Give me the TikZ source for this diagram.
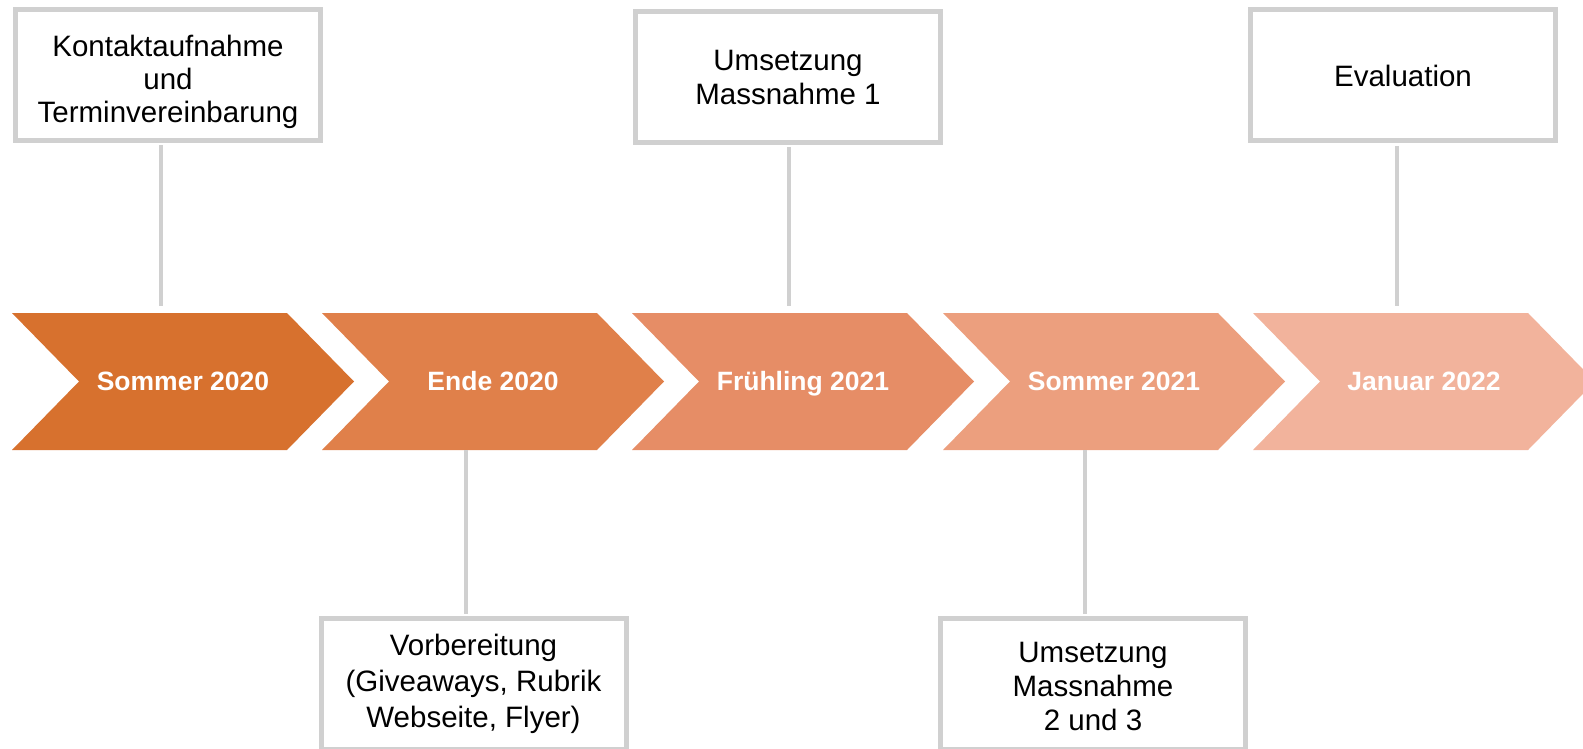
\documentclass[tikz,border=0pt]{standalone}
\usepackage{fontspec}
\setmainfont{Liberation Sans}
\definecolor{chA}{HTML}{D7712E}
\definecolor{chB}{HTML}{E0804A}
\definecolor{chC}{HTML}{E68D66}
\definecolor{chD}{HTML}{EC9F7E}
\definecolor{chE}{HTML}{F2B39C}
\definecolor{boxgray}{HTML}{D0D0D0}
\tikzset{
  infobox/.style={draw=boxgray, line width=5pt, fill=white, minimum width=305pt, minimum height=131pt,
    inner sep=0pt, align=center, font=\fontsize{29.5}{34}\selectfont, text=black},
  chevlabel/.style={text=white, font=\bfseries\fontsize{26.5}{30}\selectfont, inner sep=0pt, anchor=base},
  stem/.style={draw=boxgray, line width=4.5pt},
}
\begin{document}
\begin{tikzpicture}[x=1pt,y=-1pt]
\useasboundingbox (0,0) rectangle (1583,749);
% chevrons
\foreach \L/\col in {12/chA,322/chB,632/chC,943/chD,1253/chE}{
  \fill[\col] (\L,313) -- ++(275,0) -- ++(67,68.5) -- ++(-67,68.5) -- ++(-275,0) -- ++(67,-68.5) -- cycle;
}
\node[chevlabel] (s1) at (183,390) {Sommer 2020};
\node[chevlabel] (s2) at (493,390) {Ende 2020};
\node[chevlabel] (s3) at (803,390) {Frühling 2021};
\node[chevlabel] (s4) at (1114,390) {Sommer 2021};
\node[chevlabel] (s5) at (1424,390) {Januar 2022};
% boxes
\node[infobox] (b1) at (168,75) {\parbox{300pt}{\centering\fontsize{29.5}{33}\selectfont\vspace*{13pt}Kontaktaufnahme\\und\\Terminvereinbarung}};
\node[infobox] (b3) at (788,77) {Umsetzung\\Massnahme 1};
\node[infobox] (b5) at (1403,75.5) {Evaluation};
\node[infobox] (b2) at (473.5,684) {\parbox{300pt}{\centering\fontsize{29.5}{36}\selectfont Vorbereitung\\(Giveaways, Rubrik\\Webseite, Flyer)}};
\node[infobox] (b4) at (1093,684) {\parbox{300pt}{\centering\fontsize{29.5}{34}\selectfont\vspace*{5pt}Umsetzung\\Massnahme\\2 und 3}};
% connector ends
\coordinate (e1) at (161,306);
\coordinate (e3) at (789,306);
\coordinate (e5) at (1397,306);
\coordinate (e2) at (466,450);
\coordinate (e4) at (1085,450);
\draw[stem] (b1.south -| e1) ++(0,2.5) -- (e1);
\draw[stem] (b3.south -| e3) ++(0,2.5) -- (e3);
\draw[stem] (b5.south -| e5) ++(0,2.5) -- (e5);
\draw[stem] (e2) -- ([yshift=2.5pt]b2.north -| e2);
\draw[stem] (e4) -- ([yshift=2.5pt]b4.north -| e4);
\end{tikzpicture}
\end{document}
